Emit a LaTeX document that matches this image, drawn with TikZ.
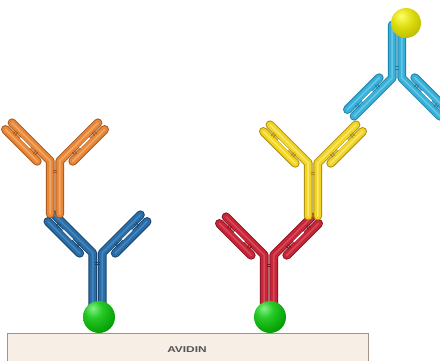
\documentclass[tikz,border=0pt]{standalone}
\usepackage{fontspec}
\setmainfont{Liberation Sans}

% antibody colours: outline, body, highlight
\definecolor{orgDark}{HTML}{A4561A}
\definecolor{orgMain}{HTML}{E8873A}
\definecolor{orgLight}{HTML}{F2A865}
\definecolor{bluDark}{HTML}{18436B}
\definecolor{bluMain}{HTML}{2A6CA6}
\definecolor{bluLight}{HTML}{4585BE}
\definecolor{redDark}{HTML}{861424}
\definecolor{redMain}{HTML}{C62637}
\definecolor{redLight}{HTML}{D8485A}
\definecolor{yelDark}{HTML}{A88A12}
\definecolor{yelMain}{HTML}{F2D423}
\definecolor{yelLight}{HTML}{FAE66A}
\definecolor{cyaDark}{HTML}{1D7FA6}
\definecolor{cyaMain}{HTML}{38B0D8}
\definecolor{cyaLight}{HTML}{64C6E8}
\definecolor{boxFill}{HTML}{F7EEE5}
\definecolor{boxLine}{HTML}{A39386}
\definecolor{labelGrey}{HTML}{555555}

% shaded beads (100bp square scaled onto the circle)
\pgfdeclareradialshading{greenbead}{\pgfpoint{-10bp}{14bp}}{%
  color(0bp)=(green!45!white!95!black); color(14bp)=(green!75!black!85);
  color(36bp)=(green!60!black); color(54bp)=(green!40!black); color(100bp)=(green!40!black)}
\pgfdeclareradialshading{yellowbead}{\pgfpoint{-8bp}{12bp}}{%
  color(0bp)=(yellow!60!white); color(18bp)=(yellow!85!black!95);
  color(40bp)=(yellow!70!black); color(56bp)=(yellow!50!black); color(100bp)=(yellow!50!black)}

\tikzset{
  bead/.style={shading=#1},
  % Y-shaped antibody: hinge at the origin, stem pointing down
  pics/antibody/.style n args={3}{code={
    \foreach \abw/\abcol in {8.8/#1,6.8/#2,1.6/#3}{
      % heavy chains: paired stem bending into both arms
      \draw[line width=\abw pt,color=\abcol,line cap=round,line join=round]
        (-4.75,-53) -- (-4.75,0) -- ++(135:54)
        (4.75,-53) -- (4.75,0) -- ++(45:54);
      % light chains along the outer side of each arm
      \draw[line width=\abw pt,color=\abcol,line cap=round]
        (-4.75,0) ++(135:9) ++(225:9.4) -- ++(135:45)
        (4.75,0) ++(45:9) ++(-45:9.4) -- ++(45:45);
    }
    % open slot between heavy and light chain
    \draw[white,line width=1.6pt,line cap=round]
      (-4.75,0) ++(225:4.7) ++(135:24) -- ++(135:13)
      (4.75,0) ++(-45:4.7) ++(45:24) -- ++(45:13);
    % disulfide bridges
    \foreach \t in {15,17.4,43,45.4}{
      \draw[color=#1,line width=0.9pt]
        (-4.75,0) ++(135:\t) ++(225:2.6) -- ++(225:4.2)
        (4.75,0) ++(45:\t) ++(-45:2.6) -- ++(-45:4.2);
    }
    \draw[color=#1,line width=0.9pt] (-2.4,-9) -- (2.4,-9) (-2.4,-11.4) -- (2.4,-11.4);
  }}
}

\begin{document}
\begin{tikzpicture}[x=1pt,y=1pt]
  \useasboundingbox (0,0) rectangle (440,360);
  \clip (0,0) rectangle (440,360);
  \fill[white] (0,0) rectangle (440,360);

  % avidin surface
  \draw[draw=boxLine,fill=boxFill,line width=1pt] (7,-5) rectangle (368,27);
  \node[font=\bfseries\fontsize{8.5}{10}\selectfont,text=labelGrey] (avidin) at (187,10)
    {\scalebox{1.4}[1]{AVIDIN}};

  % left stack
  \pic (abBlue) at (97.5,107) {antibody={bluDark}{bluMain}{bluLight}};
  \pic (abOrange) at (55,199) {antibody={orgDark}{orgMain}{orgLight}};

  % right stack
  \pic (abRed) at (269,105) {antibody={redDark}{redMain}{redLight}};
  \pic (abYellow) at (313,197) {antibody={yelDark}{yelMain}{yelLight}};
  \pic[rotate=180] (abCyan) at (397,282) {antibody={cyaDark}{cyaMain}{cyaLight}};

  % biotin beads
  \shade[bead=greenbead] (99,43) circle (16);
  \shade[bead=greenbead] (270,43) circle (16);
  \shade[bead=yellowbead] (406,337) circle (15);
\end{tikzpicture}
\end{document}
